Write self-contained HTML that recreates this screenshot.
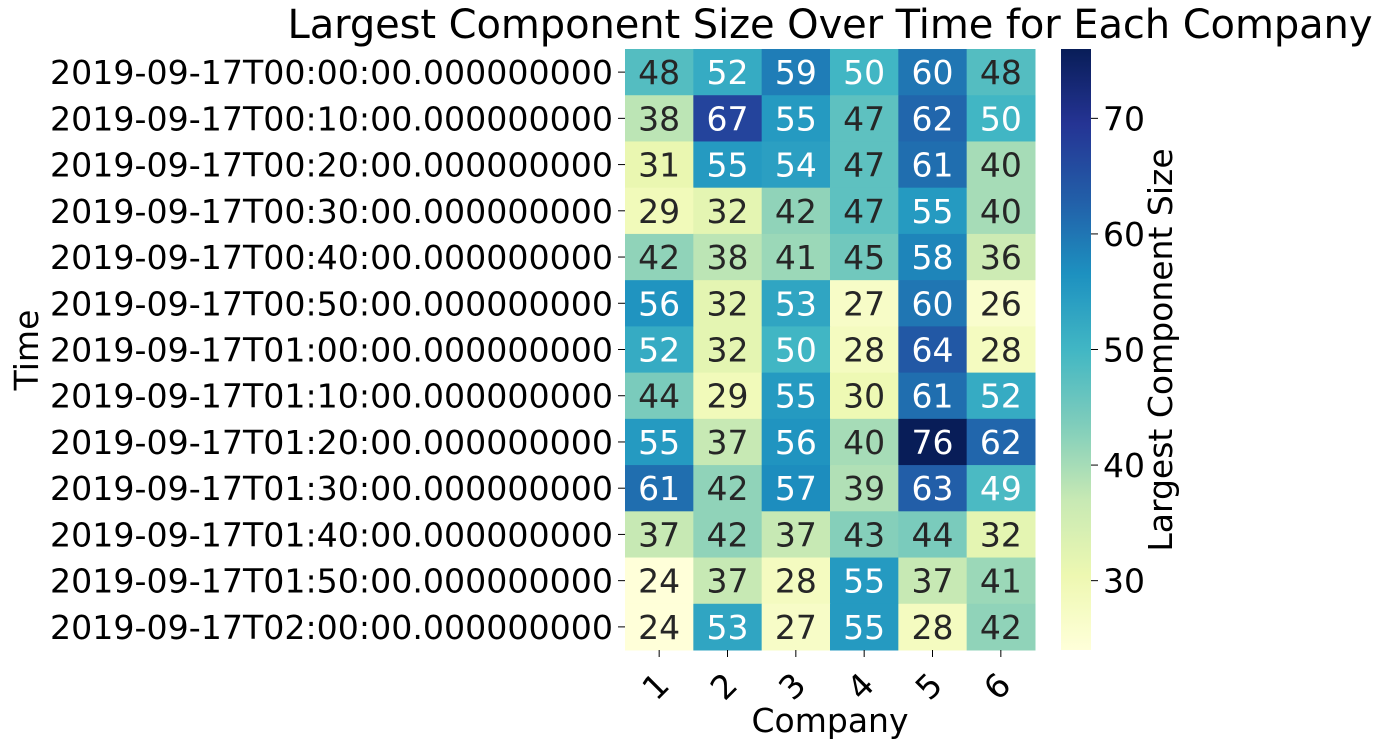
<!DOCTYPE html>
<html><head><meta charset="utf-8"><style>body{margin:0;background:#fff}svg{display:block;font-family:"DejaVu Sans","Liberation Sans",sans-serif}</style></head>
<body>
<svg id="c" width="1384" height="747"></svg>
<script>
const times=["2019-09-17T00:00:00.000000000","2019-09-17T00:10:00.000000000","2019-09-17T00:20:00.000000000","2019-09-17T00:30:00.000000000","2019-09-17T00:40:00.000000000","2019-09-17T00:50:00.000000000","2019-09-17T01:00:00.000000000","2019-09-17T01:10:00.000000000","2019-09-17T01:20:00.000000000","2019-09-17T01:30:00.000000000","2019-09-17T01:40:00.000000000","2019-09-17T01:50:00.000000000","2019-09-17T02:00:00.000000000"];
const companies=["1","2","3","4","5","6"];
const values=[
[48,52,59,50,60,48],
[38,67,55,47,62,50],
[31,55,54,47,61,40],
[29,32,42,47,55,40],
[42,38,41,45,58,36],
[56,32,53,27,60,26],
[52,32,50,28,64,28],
[44,29,55,30,61,52],
[55,37,56,40,76,62],
[61,42,57,39,63,49],
[37,42,37,43,44,32],
[24,37,28,55,37,41],
[24,53,27,55,28,42]];
const cbTicks=[30,40,50,60,70];
const vmin=24,vmax=76;
const L=625,R=1035,T=49,B=650,CBL=1061,CBR=1091;
const FS=33;
const stops=["#ffffd9","#edf8b1","#c7e9b4","#7fcdbb","#41b6c4","#1d91c0","#225ea8","#253494","#081d58"];
const ns="http://www.w3.org/2000/svg",svg=document.getElementById('c');
function hx(h){return [1,3,5].map(i=>parseInt(h.substr(i,2),16));}
function cmap(t){t=Math.max(0,Math.min(1,t));const p=t*8,i=Math.min(7,Math.floor(p)),f=p-i;const a=hx(stops[i]),b=hx(stops[i+1]);return a.map((v,k)=>Math.round(v+(b[k]-v)*f));}
function lum(c){const l=c.map(v=>{v/=255;return v<=0.03928?v/12.92:Math.pow((v+0.055)/1.055,2.4)});return 0.2126*l[0]+0.7152*l[1]+0.0722*l[2];}
function el(n,a,p){const e=document.createElementNS(ns,n);for(const k in a)e.setAttribute(k,a[k]);(p||svg).appendChild(e);return e;}
const cw=(R-L)/companies.length,rh=(B-T)/times.length;
const xc=j=>L+cw*(j+0.5),yc=i=>T+rh*(i+0.5);
values.forEach((row,i)=>row.forEach((v,j)=>{
 const c=cmap((v-vmin)/(vmax-vmin));
 const r=el('rect',{x:L+cw*j,y:T+rh*i,width:cw+0.5,height:rh+0.5,fill:`rgb(${c})`});
 
 
 const t=el('text',{x:xc(j),y:yc(i)+12,'text-anchor':'middle','font-size':FS,fill:lum(c)>0.408?'#262626':'#ffffff'});
 t.textContent=v;
 
 
}));
times.forEach((s,i)=>{
 el('line',{x1:L-7,x2:L,y1:yc(i),y2:yc(i),stroke:'#000','stroke-width':1});
 const t=el('text',{x:L-12,y:yc(i)+12,'text-anchor':'end','font-size':FS,fill:'#000',textLength:563,lengthAdjust:'spacingAndGlyphs'});t.textContent=s;
 
 
});
companies.forEach((s,j)=>{
 el('line',{x1:xc(j),x2:xc(j),y1:B,y2:B+7,stroke:'#000','stroke-width':1});
 const t=el('text',{x:0,y:0,'text-anchor':'middle','font-size':FS,fill:'#000',transform:`translate(${xc(j)-4},${B+36}) rotate(-45) translate(0,12)`});t.textContent=s;
 
 
});
const defs=el('defs',{});const g=el('linearGradient',{id:'cb',x1:0,y1:1,x2:0,y2:0},defs);
for(let k=0;k<=40;k++){const c=cmap(k/40);el('stop',{offset:k/40,'stop-color':`rgb(${c})`},g);}
const cb=el('rect',{x:CBL,y:T,width:CBR-CBL,height:B-T,fill:'url(#cb)'});


const cy=v=>B-(v-vmin)/(vmax-vmin)*(B-T);
cbTicks.forEach(v=>{
 el('line',{x1:CBR,x2:CBR+7,y1:cy(v),y2:cy(v),stroke:'#000'});
 const t=el('text',{x:CBR+12,y:cy(v)+12,'font-size':FS,fill:'#000'});t.textContent=v;
 
 
});
function lab(txt,x,y,rot,name,size,len){const t=el('text',{x:0,y:0,'text-anchor':'middle','font-size':size,fill:'#000',transform:`translate(${x},${y}) rotate(${rot})`});if(len)t.setAttribute('textLength',len);t.textContent=txt;}
lab('Largest Component Size Over Time for Each Company',830,38,0,'chart-title',40,1085);
lab('Company',830,732,0,'x-axis-title',FS);
lab('Time',38,350,-90,'y-axis-title',FS);
lab('Largest Component Size',1172,350,-90,'colorbar-title',FS);
</script>
</body></html>
